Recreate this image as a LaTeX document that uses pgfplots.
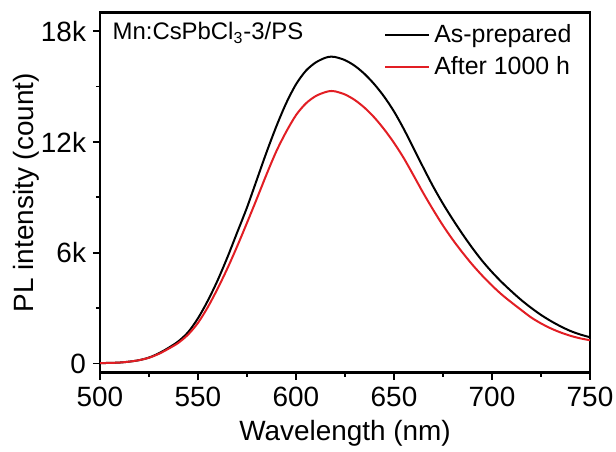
\documentclass[border=0pt]{standalone}
\usepackage{fontspec}
\setmainfont{Liberation Sans}
\usepackage{pgfplots}
\pgfplotsset{compat=1.18}
\definecolor{plred}{RGB}{226,30,36}

\pgfplotstableread{
wl    pl
500   20
505   30
510   50
515   100
520   180
525   320
530   550
535   850
540   1200
545   1700
550   2450
555   3400
560   4500
565   5750
570   7100
575   8450
580   9950
585   11450
590   12850
595   14100
600   15120
605   15850
610   16300
615   16560
618   16620
620   16600
625   16430
630   16120
635   15680
640   15120
645   14450
650   13650
655   12700
660   11650
665   10600
670   9580
675   8650
680   7800
685   7000
690   6250
695   5560
700   4950
705   4400
710   3900
715   3430
720   3010
725   2630
730   2300
735   2010
740   1760
745   1570
750   1420
}\asprepared

\pgfplotstableread{
wl    pl
500   20
505   30
510   50
515   100
520   180
525   310
530   520
535   800
540   1120
545   1570
550   2200
555   3050
560   4050
565   5150
570   6350
575   7620
580   8920
585   10250
590   11500
595   12550
600   13450
605   14080
610   14480
615   14700
618   14760
620   14740
625   14570
630   14270
635   13850
640   13320
645   12680
650   11950
655   11120
660   10180
665   9220
670   8320
675   7470
680   6700
685   6000
690   5350
695   4760
700   4220
705   3730
710   3300
715   2890
720   2490
725   2170
730   1900
735   1680
740   1500
745   1360
750   1260
}\afterh

\begin{document}
\begin{tikzpicture}
\begin{axis}[
  scale only axis, width=245bp, height=180bp,
  xmin=500, xmax=750, ymin=-500, ymax=19000,
  xtick={500,550,...,750}, minor xtick={525,575,...,725},
  ytick={0,6000,12000,18000}, yticklabels={0,6k,12k,18k},
  minor ytick={3000,9000,15000},
  scaled y ticks=false,
  tick align=outside, xtick pos=bottom, ytick pos=left,
  major tick length=3.5bp, minor tick length=2bp,
  axis line style={line width=1.3bp}, every tick/.style={line width=0.9bp, black},
  tick label style={font=\fontsize{14}{16}\selectfont},
  /pgf/number format/assume math mode=true,
  xlabel={Wavelength (nm)}, ylabel={PL intensity (count)},
  label style={font=\fontsize{14}{16}\selectfont},
  ylabel style={yshift=-6bp},
  legend style={draw=none, fill=none, at={(0.975,0.985)}, anchor=north east,
    font=\fontsize{12.5}{14.5}\selectfont, row sep=1.5bp, inner sep=1bp},
  legend cell align=left,
  legend image code/.code={\draw[#1] (0bp,0bp) -- (22bp,0bp);},
]
\addplot[black, line width=1bp, smooth] table[x=wl, y=pl] {\asprepared};
\addplot[plred, line width=1bp, smooth] table[x=wl, y=pl] {\afterh};
\legend{As-prepared, After 1000 h}
\node[anchor=north west, font=\fontsize{12}{14}\selectfont, inner sep=0pt]
  at (rel axis cs:0.025,0.975) {Mn:CsPbCl\textsubscript{3}-3/PS};
\coordinate (bl) at (rel axis cs:0,0);
\coordinate (tr) at (rel axis cs:1,1);
\end{axis}
\pgfresetboundingbox
\path ([shift={(-50bp,-39.5bp)}]bl) rectangle ([shift={(13bp,6.35bp)}]tr);
\end{tikzpicture}
\end{document}
